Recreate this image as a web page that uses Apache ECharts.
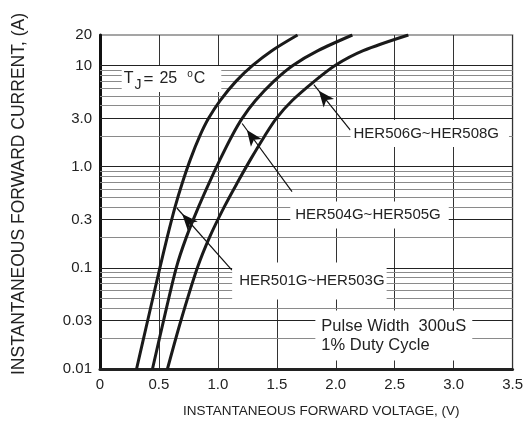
<!DOCTYPE html>
<html><head><meta charset="utf-8">
<script src="https://cdn.jsdelivr.net/npm/echarts@6/dist/echarts.min.js"></script>
<style>html,body{margin:0;padding:0;background:#fff}#c{width:526px;height:428px}</style>
</head><body><div id="c"></div>
<script>
// ---- data ----
const seriesNames = ['HER501G~HER503G', 'HER504G~HER505G', 'HER506G~HER508G'];
const currents = [0.01, 0.03, 0.1, 0.2, 0.4, 0.7, 1.2, 2, 3, 4.5, 7, 10, 14, 20];
const voltA = [0.310, 0.404, 0.508, 0.570, 0.637, 0.700, 0.769, 0.846, 0.921, 1.019, 1.155, 1.295, 1.458, 1.676];
const voltB = [0.445, 0.539, 0.647, 0.732, 0.836, 0.928, 1.022, 1.118, 1.206, 1.319, 1.476, 1.636, 1.849, 2.141];
const voltC = [0.572, 0.686, 0.826, 0.929, 1.054, 1.167, 1.281, 1.396, 1.496, 1.631, 1.820, 1.994, 2.233, 2.616];

const xTickLabels = ['0', '0.5', '1.0', '1.5', '2.0', '2.5', '3.0', '3.5'];
const yTickValues = [0.01, 0.03, 0.1, 0.3, 1, 3, 10, 20];
const yTickLabels = ['0.01', '0.03', '0.1', '0.3', '1.0', '3.0', '10', '20'];
const gridMajor = [0.03, 0.1, 0.3, 1, 3, 10];
const gridMinor = [0.02, 0.04, 0.05, 0.06, 0.07, 0.08, 0.09,
                   0.2, 0.4, 0.5, 0.6, 0.7, 0.8, 0.9,
                   2, 4, 5, 6, 7, 8, 9];

const xTitle = 'INSTANTANEOUS FORWARD VOLTAGE, (V)';
const yTitle = 'INSTANTANEOUS FORWARD CURRENT, (A)';
const noteTemp = '{t|T}{s|J}{e|=}{n|25}{u|o}{t|C}';
const notePulse = 'Pulse Width  300uS\n1% Duty Cycle';

// ---- chart ----
const SANS = "'Liberation Sans', Arial, sans-serif";
const zip = (v, c) => v.map((x, i) => [x, c[i]]);

const chart = echarts.init(document.getElementById('c'), null, {renderer: 'canvas'});

const curveSeries = [voltA, voltB, voltC].map((v, i) => ({
  name: seriesNames[i], type: 'line', z: 5, smooth: 0.3, symbol: 'none',
  data: zip(v, currents), lineStyle: {color: '#1a1a1a', width: 3}, silent: true
}));

const gridLines = [
  ...gridMinor.map(v => ({yAxis: v, lineStyle: {color: '#8a8a8a', width: 1, type: 'solid'}})),
  ...gridMajor.map(v => ({yAxis: v, lineStyle: {color: '#222', width: 1, type: 'solid'}}))
];

const boxLabel = (extra) => Object.assign({
  show: true, position: 'inside', align: 'left', verticalAlign: 'middle',
  backgroundColor: '#fff', color: '#222', fontFamily: SANS, fontSize: 15
}, extra);

const arrowEnd = (coord) => ({coord, symbol: 'arrow', symbolSize: [10, 16], symbolOffset: [0, 8]});
const tj = (o) => Object.assign({fontFamily: SANS, color: '#222', lineHeight: 26}, o);

chart.setOption({
  animation: false,
  grid: {left: 100, right: 13, top: 35, bottom: 59, show: true, borderColor: '#888', borderWidth: 1.5},
  xAxis: {
    type: 'value', min: 0, max: 3.5, interval: 0.5,
    name: xTitle, nameLocation: 'middle', nameGap: 35,
    nameTextStyle: {fontFamily: SANS, fontSize: 13.5, color: '#222', padding: [0, 0, 0, 30]},
    axisLine: {show: true, lineStyle: {color: '#222', width: 3}},
    axisTick: {show: false},
    axisLabel: {margin: 8, fontFamily: SANS, fontSize: 15, color: '#222',
      formatter: v => xTickLabels[Math.round(v / 0.5)] || ''},
    splitLine: {show: true, lineStyle: {color: '#333', width: 1}}
  },
  yAxis: {
    type: 'log', logBase: 10, min: 0.01, max: 20,
    name: yTitle, nameLocation: 'middle', nameGap: 72, nameRotate: 90,
    nameTextStyle: {fontFamily: SANS, fontSize: 17.5, color: '#222', padding: [0, 0, 0, 16]},
    axisLine: {show: true, lineStyle: {color: '#111', width: 3}},
    axisTick: {show: false},
    axisLabel: {
      customValues: yTickValues, margin: 8, fontFamily: SANS, fontSize: 15, color: '#222',
      showMinLabel: true, showMaxLabel: true,
      formatter: v => {
        const k = yTickValues.findIndex(t => Math.abs(t - v) / t < 1e-6);
        return k >= 0 ? yTickLabels[k] : '';
      }
    },
    splitLine: {show: false}
  },
  series: [
    {
      type: 'line', name: 'grid', data: [], z: 1, silent: true,
      markLine: {silent: true, symbol: 'none', label: {show: false}, animation: false, data: gridLines}
    },
    {
      type: 'line', name: 'notes', data: [], z: 3, silent: true,
      markPoint: {
        silent: true, symbol: 'circle', symbolSize: 1, itemStyle: {color: 'rgba(0,0,0,0)'}, animation: false,
        data: [
          {coord: [0.184, 7.35], label: boxLabel({formatter: noteTemp, padding: [0, 16, 0, 2],
            rich: {
              t: tj({fontSize: 16, verticalAlign: 'middle'}),
              s: tj({fontSize: 14, verticalAlign: 'bottom', padding: [0, 1, 0, 1]}),
              e: tj({fontSize: 17, verticalAlign: 'middle', padding: [0, 6, 0, 1]}),
              n: tj({fontSize: 16, verticalAlign: 'middle', padding: [0, 0, 0, 0]}),
              u: tj({fontSize: 10, verticalAlign: 'top', padding: [3, 1, 0, 10]})
            }})},
          {coord: [2.125, 2.13], label: boxLabel({formatter: seriesNames[2], padding: [6, 10, 6, 3]})},
          {coord: [1.614, 0.333], label: boxLabel({formatter: seriesNames[1], padding: [6, 8, 6, 5]})},
          {coord: [1.121, 0.0741], label: boxLabel({formatter: seriesNames[0], padding: [11, 2, 11, 7]})},
          {coord: [1.827, 0.02144], label: boxLabel({formatter: notePulse, fontSize: 16.5, lineHeight: 19, padding: [6, 6, 6, 6]})}
        ]
      }
    },
    {
      type: 'line', name: 'arrows', data: [], z: 6, silent: true,
      markLine: {
        silent: true, symbol: ['none', 'arrow'], label: {show: false}, animation: false,
        lineStyle: {color: '#111', width: 1.2, type: 'solid'}, itemStyle: {color: '#111'},
        data: [
          [{coord: [2.124, 2.30]}, arrowEnd([1.814, 6.48])],
          [{coord: [1.629, 0.565]}, arrowEnd([1.206, 2.67])],
          [{coord: [1.119, 0.0951]}, arrowEnd([0.652, 0.390])]
        ]
      }
    },
    ...curveSeries
  ]
});
</script>
</body></html>
